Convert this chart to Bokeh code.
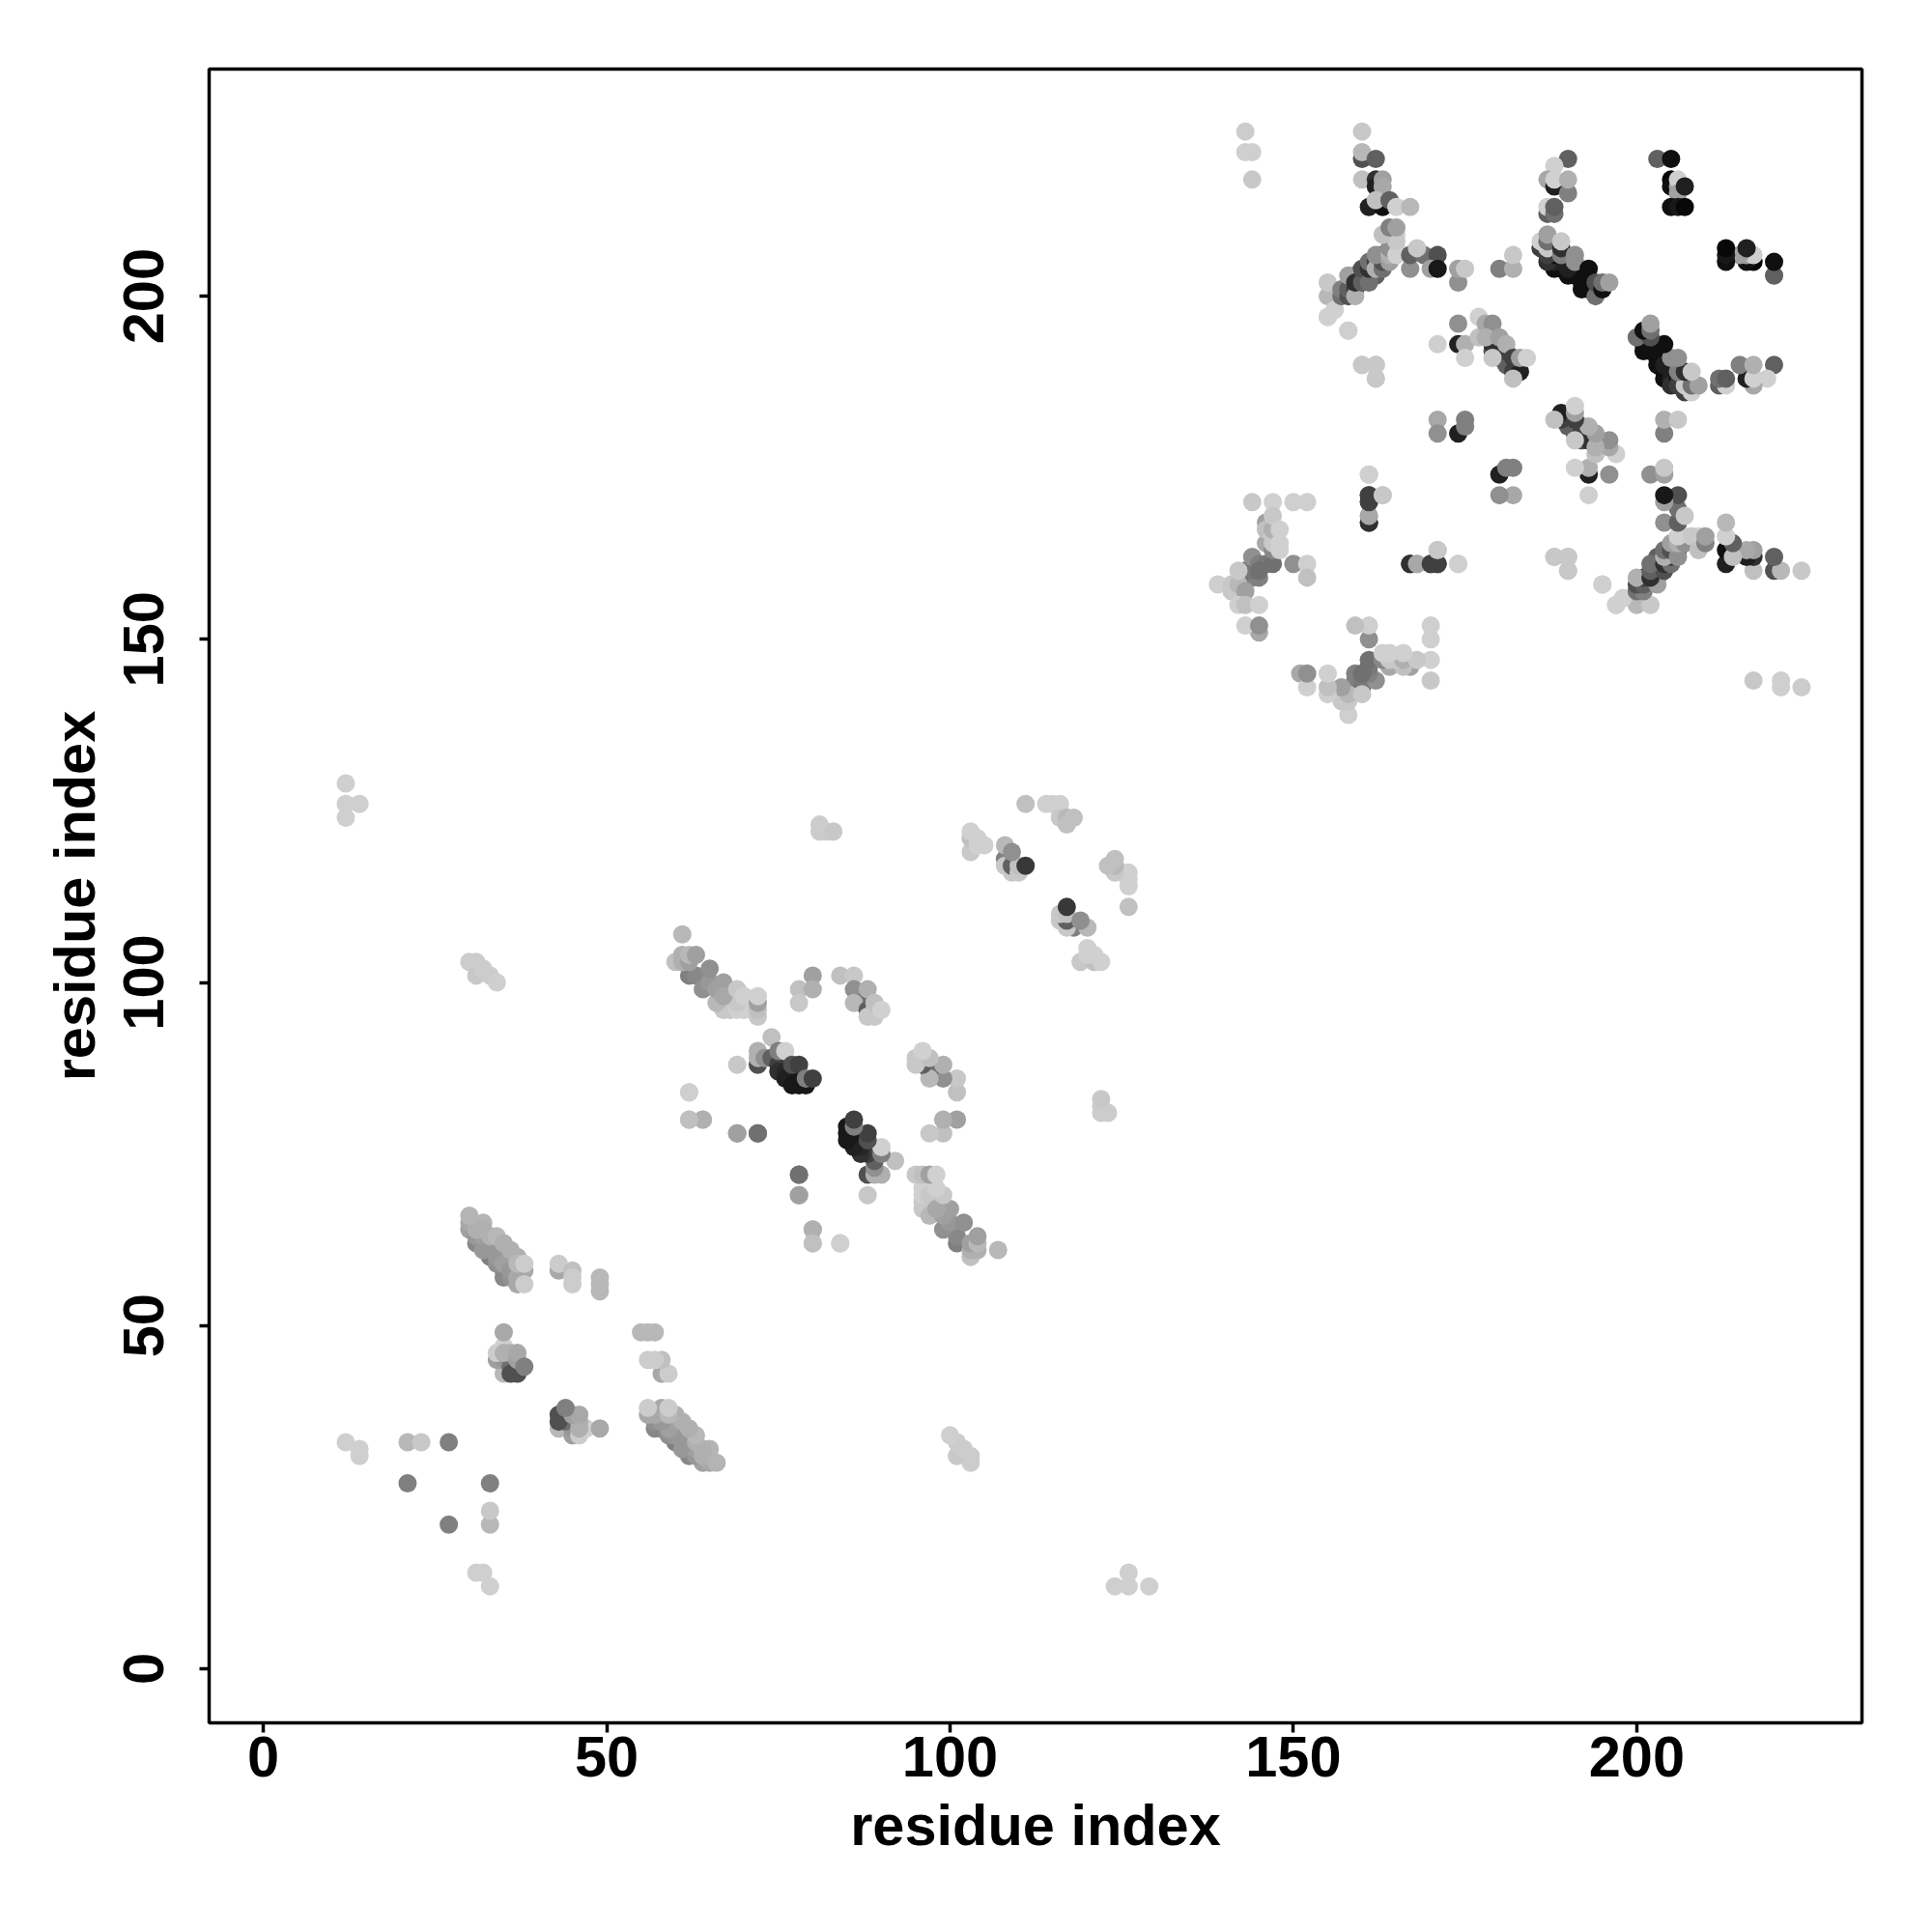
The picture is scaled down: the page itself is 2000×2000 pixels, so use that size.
from bokeh.plotting import figure
from bokeh.models import ColumnDataSource, Range1d, FixedTicker
from bokeh.embed import file_html
from bokeh.resources import INLINE

# Contact map: (residue i, residue j, grey level). The map is symmetric, each contact is shown at (i,j) and (j,i).
c_far = [(12,124,0xcf),(12,126,0xcf),(14,126,0xcf),(12,129,0xcf),(12,33,0xcf),(14,32,0xcf),(14,31,0xcf),
         (21,33,0xb8),(23,33,0xc8),(27,33,0x80),(21,27,0x80),
         (30,103,0xcc),(31,103,0xcc),(31,101,0xc8),(32,102,0xcc),(33,101,0xcc),(34,100,0xcf)]
c_30_60 = [(33,61,0xd0),(35,60,0xc8),(31,62,0x88),(33,60,0x80),(35,58,0x80),(35,57,0x88),(32,61,0x98),(34,59,0x90),(36,57,0x90),
           (30,64,0xa0),(31,63,0x98),(32,63,0xa0),(33,62,0x98),(34,60,0x98),(35,59,0xa0),(36,58,0x98),
           (37,57,0xa8),(37,56,0xa8),(38,58,0xa8),(30,65,0xa8),(31,64,0xb0),(30,66,0xb4),
           (32,65,0xb4),(32,64,0xb0),(33,63,0xb0),(34,63,0xb8),(35,62,0xb0),(36,61,0xb0),(37,60,0xb0),(37,59,0xb8),
           (38,59,0xcc),(38,56,0xcc)]
c_43_59 = [(43,58,0xa8),(43,59,0xcc),(45,58,0xc0),(45,57,0xcc),(45,56,0xcc),(49,57,0xb8),(49,56,0xb8),(49,55,0xb8)]
c_35_45 = [(35,43,0xb8),(34,45,0xa0),(35,45,0x98),(36,44,0x70),(36,43,0x50),(37,43,0x50),(34,46,0xcc),(35,47,0xd0),
           (35,46,0xb0),(36,46,0xb0),(37,45,0xa0),(35,49,0xa8),(37,46,0xa8),(38,44,0x80)]
c_60_100 = [(67,96,0xc8),(68,96,0xc8),(69,96,0xd0),(70,96,0xd0),(69,97,0xc8),(66,97,0xb8),(62,101,0x80),(63,101,0x88),(64,99,0x90),(65,100,0x98),
            (60,103,0xc0),(61,103,0xb0),(61,104,0xb0),(62,103,0xa0),(62,104,0xb8),
            (63,104,0xa0),(61,107,0xb8),(65,102,0x90),(66,99,0xa0),(67,100,0xa0),(67,98,0xa8),
            (69,99,0xc8),(70,98,0xd0),(72,95,0xc8),(72,96,0xc0),(72,97,0xa0),(72,98,0xd0)]
c_78_101 = [(80,101,0xa0),(78,99,0xc0),(80,99,0xb0),(78,97,0xc8),(84,101,0xc0),(86,101,0xc8),(86,99,0x90),(87,97,0x70),
            (86,97,0xb8),(88,99,0xb0),(88,96,0x60),(89,96,0xb8),(88,95,0xc8),(89,95,0xc8),(89,97,0xc0),(90,96,0xd0)]
c_70_90 = [(72,88,0x50),(72,89,0xb0),(72,90,0xb0),(73,89,0x90),(74,89,0x60),(75,88,0x40),(75,87,0x30),(76,87,0x28),(76,86,0x20),(77,86,0x20),(77,85,0x18),
           (78,85,0x18),(79,85,0x18),(78,86,0x18),(74,92,0xc0),(75,90,0x80),(76,90,0xd0),(77,88,0x50),(78,88,0x40),(79,86,0x80),(80,86,0x40),
           (69,88,0xc8),(62,84,0xcf),(62,80,0xc0),(64,80,0xb8),(69,78,0xb0),(72,78,0x70),(78,72,0x70),(78,69,0xa0),(80,64,0xb0),
           (80,62,0xc0),(84,62,0xcf)]
c_81_123 = [(81,123,0xcc),(81,122,0xcc),(82,122,0xcc),(83,122,0xc8)]
c_103_120 = [(103,119,0xc8),(103,121,0xc0),(103,122,0xd0),(104,121,0xd0),(104,120,0xd0),(105,120,0xd0),(108,118,0x80),
             (108,117,0xc8),(108,120,0xb8),(109,116,0xc8),(109,117,0x60),(110,116,0xc8),(110,117,0xc0),(109,119,0x90),(111,117,0x38),
             (111,126,0xc0),(114,126,0xd0),(115,126,0xd0),(116,126,0xd0),(116,125,0xd0),(116,124,0xc8),(117,124,0xb8),
             (118,124,0xc0),(117,123,0xc0)]
c_143_170 = [(143,224,0xcc),(143,221,0xcf),(144,221,0xcf),(144,217,0xc8),
             (144,170,0xc8),(147,170,0xd0),(150,170,0xcf),(152,170,0xcf),(145,151,0xa8),(143,152,0xcf),(145,152,0x90),
             (143,159,0x70),(144,159,0x80),(145,159,0x80),(143,160,0x70),(144,160,0x78),(144,162,0x90),(145,161,0x80),(146,161,0x78),(147,161,0x70),(145,160,0x70),
             (139,158,0xcf),(141,157,0xc8),(141,158,0xc8),(142,158,0xb8),(142,160,0xc8),(143,157,0xa0),(142,155,0xcf),(143,155,0xc0),
             (145,155,0xd0),(146,167,0xa0),(146,164,0xa8),(146,166,0xc0),(147,163,0x88),(147,165,0xc8),(147,164,0xc8),(147,166,0xb0),(147,168,0xc8),(148,166,0xd0),(148,164,0xd0),
             (148,163,0xd0),(150,161,0x90),(152,161,0xcf),(152,159,0xc0)]
c_160_171 = [(161,171,0x40),(161,170,0x40),(161,167,0x30),(161,168,0xa8),(161,174,0xcf),(163,171,0xc0),(167,161,0x30),(168,161,0xa8),
             (170,161,0x40),(171,161,0x40),(174,161,0xcf),(171,163,0xc8),(160,190,0xc8),(162,190,0xc8),(162,188,0xc8),
             (188,162,0xc8),(190,162,0xc8),(190,160,0xc8),(195,158,0xcf),(197,155,0xcf),(198,156,0xc8),
             (171,182,0xa8),(171,180,0x90),(174,180,0x20),(175,181,0x80),(175,182,0x80)]
c_160_213 = [(160,220,0x50),(160,221,0xb8),(160,224,0xc8),(162,220,0x60),(160,217,0xc0),(162,217,0x30),(162,216,0x20),(163,217,0xa0),
             (163,216,0xa8),(161,213,0x20),(163,213,0x10),(162,214,0xc0),(164,214,0x60),(165,213,0xd0),(167,213,0xb8)]
c_155_206 = [(155,200,0xb8),(156,200,0xb8),(155,202,0xc8),(155,197,0xd0),(156,198,0xd0),(158,195,0xcf),(165,207,0xd0),(165,209,0xd0),
             (157,200,0x70),(157,201,0x80),(158,200,0x50),(158,201,0x60),(159,201,0x40),(159,203,0x50),(160,203,0x30),(161,203,0x40),(162,203,0x60),
             (158,203,0xa0),(159,200,0xb0),(159,202,0x30),(160,202,0x60),(160,204,0x50),(161,202,0x70),(161,204,0x30),(161,205,0x70),(162,205,0x40),
             (162,204,0xb0),(163,204,0x70),(163,205,0x50),(163,206,0x40),(162,206,0x90),(164,205,0xa0),(164,206,0xb0),(164,207,0x90),(165,206,0xd0),(165,208,0xc8),
             (163,209,0xc0),(164,210,0x80),(165,210,0xa0),(167,204,0x90),(167,206,0x60),(169,206,0x70),(168,207,0xc8),
             (171,206,0x50),(170,204,0xa0),(171,204,0x18),(174,202,0x90),(174,204,0xa0),(175,204,0xc8),(180,204,0x80),(182,204,0xb0),(182,206,0xc8)]
c_186_220 = [(190,220,0x60),(188,219,0xd0),(187,217,0xa8),(188,216,0x20),(188,217,0xd0),(190,215,0x80),(190,217,0xb0),
             (187,212,0x60),(187,213,0xd0),(188,212,0x70),(188,213,0x60),
             (189,205,0x10),(189,204,0x10),(191,203,0x10),(191,204,0x20),(192,202,0x10),(193,202,0x20),(193,201,0x10),
             (188,204,0x10),(188,205,0x20),(187,205,0x30),(190,203,0x10),(192,201,0x10),(192,203,0x10),(190,204,0x20),(188,206,0x10),
             (186,207,0x40),(187,206,0x40),(187,207,0xc8),(186,208,0xd0),(187,208,0x70),(187,209,0xa0),(189,206,0x80),(189,207,0x30),
             (191,205,0x90),(191,206,0x90),(193,204,0x10),(194,200,0x70),(194,202,0x50),(195,201,0x10),(195,202,0x70),(196,202,0xa0),(189,208,0xc8)]
c_174_197 = [(174,196,0x90),(174,193,0x20),(175,193,0xb0),(171,193,0xcf),(175,191,0xd0),(179,192,0x50),(181,191,0x30),(180,191,0x30),(181,190,0x60),(182,189,0x40),
             (183,189,0x20),(179,193,0x30),(180,192,0x30),(181,192,0x40),(179,191,0xc8),(182,188,0xc0),(177,197,0xd0),(177,194,0xc0),
             (178,196,0xa8),(179,196,0x90),(178,194,0xb0),(180,194,0xa0),(181,193,0xb0),(182,191,0x40),(183,191,0xa0),(184,191,0xd0)]
c_203_220 = [(203,220,0x60),(205,220,0x10),(205,217,0x05),(205,216,0x10),(206,216,0xa0),(206,217,0xcf),(206,215,0xa0),(207,216,0x20),
             (205,213,0x10),(206,213,0x18),(207,213,0x08)]

all_clusters = [c_far, c_30_60, c_43_59, c_35_45, c_60_100, c_78_101, c_70_90, c_81_123, c_103_120,
                c_143_170, c_160_171, c_160_213, c_155_206, c_186_220, c_174_197, c_203_220]

tick_values = [0, 50, 100, 150, 200]
axis_title = "residue index"

xs, ys, cols = [], [], []
for cl in all_clusters:
    for a, b, g in cl:
        col = "#%02x%02x%02x" % (g, g, g)
        xs += [a, b]
        ys += [b, a]
        cols += [col, col]

src = ColumnDataSource(dict(x=xs, y=ys, c=cols))

p = figure(frame_width=1711, frame_height=1712, output_backend="svg", toolbar_location=None,
           x_range=Range1d(-7.9, 232.8), y_range=Range1d(-7.9, 233.1),
           min_border_left=216, min_border_top=71, min_border_right=60, min_border_bottom=150)
p.scatter("x", "y", source=src, size=19, color="c", line_color=None)

p.grid.visible = False
p.outline_line_color = "black"
p.outline_line_width = 3.5
p.outline_line_alpha = 1
p.background_fill_color = "white"
p.border_fill_color = "white"

for ax in (p.xaxis[0], p.yaxis[0]):
    ax.ticker = FixedTicker(ticks=tick_values)
    ax.axis_label = axis_title
    ax.axis_line_color = None
    ax.major_tick_line_color = "black"
    ax.major_tick_line_width = 3.5
    ax.major_tick_in = 0
    ax.major_tick_out = 10
    ax.minor_tick_line_color = None
    ax.major_label_text_font = "Liberation Sans"
    ax.major_label_text_font_style = "bold"
    ax.major_label_text_font_size = "59.5px"
    ax.major_label_text_color = "black"
    ax.axis_label_text_font = "Liberation Sans"
    ax.axis_label_text_font_style = "bold"
    ax.axis_label_text_font_size = "59.5px"
    ax.axis_label_text_color = "black"
p.xaxis[0].major_label_standoff = 4
p.xaxis[0].axis_label_standoff = 14
p.yaxis[0].major_label_orientation = "parallel"
p.yaxis[0].major_label_standoff = 37
p.yaxis[0].axis_label_standoff = 15

open("out.html", "w").write(file_html(p, INLINE))
